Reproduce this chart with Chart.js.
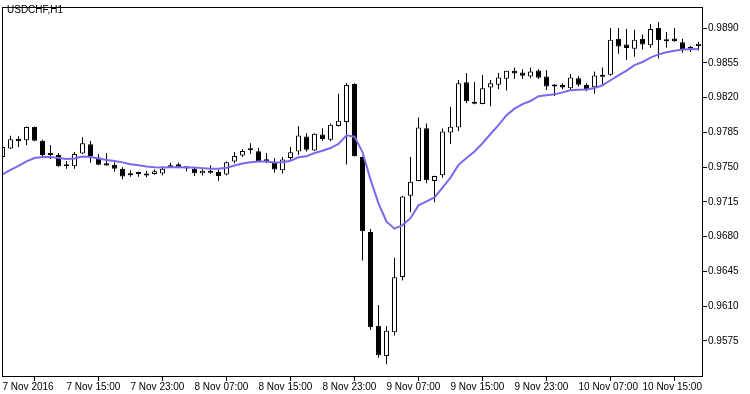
<!DOCTYPE html>
<html>
<head>
<meta charset="utf-8">
<script src="https://cdn.jsdelivr.net/npm/chart.js@4.4.0/dist/chart.umd.min.js"></script>
<style>
html, body { margin: 0; padding: 0; background: #fff; }
#wrap { width: 750px; height: 394px; }
</style>
</head>
<body>
<div id="wrap"><canvas id="chart" width="750" height="394"></canvas></div>
<script>
const symbolTitle = 'USDCHF,H1';

const openPrices = [
    0.97603, 0.97688, 0.97787, 0.97772, 0.97906, 0.97767, 0.97643, 0.97623, 0.97529, 0.97509,
    0.97638, 0.97732, 0.97598, 0.97541, 0.97524, 0.97484, 0.97439, 0.97436, 0.97436, 0.97431,
    0.97437, 0.97499, 0.97529, 0.97494, 0.97484, 0.97439, 0.97464, 0.97451, 0.97427, 0.97557,
    0.97618, 0.97671, 0.97660, 0.97580, 0.97551, 0.97469, 0.97593, 0.97658, 0.97809, 0.97668,
    0.97829, 0.97777, 0.97916, 0.97956, 0.98339, 0.97603, 0.96848, 0.95904, 0.95598, 0.95837,
    0.96394, 0.97213, 0.97362, 0.97892, 0.97362, 0.97419, 0.97849, 0.97899, 0.98356, 0.98160,
    0.98137, 0.98302, 0.98332, 0.98392, 0.98471, 0.98455, 0.98415, 0.98475, 0.98415, 0.98329,
    0.98329, 0.98296, 0.98396, 0.98329, 0.98306, 0.98428, 0.98431, 0.98793, 0.98736, 0.98694,
    0.98793, 0.98729, 0.98902, 0.98786, 0.98796, 0.98759, 0.98694, 0.98720
];
const highPrices = [
    0.97713, 0.97817, 0.97812, 0.97911, 0.97911, 0.97777, 0.97723, 0.97643, 0.97563, 0.97653,
    0.97802, 0.97765, 0.97633, 0.97643, 0.97549, 0.97499, 0.97469, 0.97454, 0.97464, 0.97477,
    0.97509, 0.97544, 0.97544, 0.97501, 0.97494, 0.97479, 0.97521, 0.97474, 0.97557, 0.97653,
    0.97683, 0.97742, 0.97693, 0.97643, 0.97593, 0.97603, 0.97703, 0.97914, 0.97842, 0.97842,
    0.97892, 0.97941, 0.98239, 0.98349, 0.98346, 0.97608, 0.96878, 0.96112, 0.95901, 0.96589,
    0.97211, 0.97603, 0.98001, 0.97941, 0.97414, 0.97889, 0.98110, 0.98379, 0.98448, 0.98359,
    0.98428, 0.98379, 0.98448, 0.98473, 0.98505, 0.98488, 0.98505, 0.98488, 0.98478, 0.98339,
    0.98346, 0.98438, 0.98418, 0.98346, 0.98465, 0.98505, 0.98902, 0.98902, 0.98895, 0.98886,
    0.98836, 0.98942, 0.98962, 0.98863, 0.98902, 0.98793, 0.98720, 0.98763
];
const lowPrices = [
    0.97593, 0.97683, 0.97703, 0.97723, 0.97762, 0.97608, 0.97583, 0.97504, 0.97484, 0.97484,
    0.97633, 0.97544, 0.97519, 0.97514, 0.97454, 0.97380, 0.97404, 0.97404, 0.97400, 0.97424,
    0.97419, 0.97491, 0.97489, 0.97459, 0.97411, 0.97417, 0.97434, 0.97365, 0.97417, 0.97539,
    0.97603, 0.97633, 0.97551, 0.97539, 0.97444, 0.97437, 0.97576, 0.97623, 0.97658, 0.97663,
    0.97767, 0.97762, 0.97911, 0.97527, 0.97608, 0.96560, 0.95861, 0.95582, 0.95516, 0.95804,
    0.96358, 0.97047, 0.97360, 0.97338, 0.97146, 0.97395, 0.97735, 0.97865, 0.98145, 0.98135,
    0.98135, 0.98113, 0.98289, 0.98272, 0.98389, 0.98389, 0.98396, 0.98389, 0.98279, 0.98217,
    0.98289, 0.98272, 0.98312, 0.98266, 0.98239, 0.98322, 0.98421, 0.98644, 0.98580, 0.98614,
    0.98687, 0.98704, 0.98594, 0.98704, 0.98763, 0.98654, 0.98660, 0.98677
];
const closePrices = [
    0.97703, 0.97782, 0.97762, 0.97906, 0.97767, 0.97623, 0.97623, 0.97511, 0.97509, 0.97633,
    0.97742, 0.97613, 0.97524, 0.97517, 0.97484, 0.97407, 0.97419, 0.97432, 0.97416, 0.97459,
    0.97484, 0.97521, 0.97499, 0.97489, 0.97439, 0.97464, 0.97444, 0.97411, 0.97551, 0.97613,
    0.97663, 0.97673, 0.97561, 0.97556, 0.97477, 0.97578, 0.97650, 0.97819, 0.97676, 0.97837,
    0.97785, 0.97928, 0.97968, 0.98329, 0.97610, 0.96855, 0.95887, 0.95605, 0.95854, 0.96391,
    0.97206, 0.97355, 0.97901, 0.97370, 0.97411, 0.97859, 0.97908, 0.98346, 0.98165, 0.98140,
    0.98296, 0.98346, 0.98405, 0.98471, 0.98445, 0.98421, 0.98465, 0.98401, 0.98312, 0.98312,
    0.98302, 0.98405, 0.98332, 0.98286, 0.98425, 0.98411, 0.98783, 0.98717, 0.98700, 0.98783,
    0.98736, 0.98892, 0.98779, 0.98769, 0.98769, 0.98690, 0.98714, 0.98743
];
const maValues = [
    0.97429, 0.97474, 0.97514, 0.97559, 0.97593, 0.97603, 0.97603, 0.97593, 0.97583, 0.97588,
    0.97608, 0.97603, 0.97588, 0.97573, 0.97563, 0.97549, 0.97531, 0.97521, 0.97507, 0.97501,
    0.97497, 0.97501, 0.97501, 0.97497, 0.97497, 0.97491, 0.97484, 0.97484, 0.97494, 0.97517,
    0.97537, 0.97551, 0.97557, 0.97557, 0.97547, 0.97551, 0.97566, 0.97600, 0.97610, 0.97643,
    0.97666, 0.97693, 0.97735, 0.97822, 0.97808, 0.97653, 0.97375, 0.97136, 0.96952, 0.96881,
    0.96917, 0.96987, 0.97116, 0.97156, 0.97196, 0.97295, 0.97395, 0.97524, 0.97593, 0.97658,
    0.97742, 0.97835, 0.97924, 0.98024, 0.98090, 0.98135, 0.98167, 0.98215, 0.98225, 0.98234,
    0.98254, 0.98276, 0.98281, 0.98284, 0.98297, 0.98326, 0.98376, 0.98426, 0.98474, 0.98528,
    0.98560, 0.98604, 0.98637, 0.98659, 0.98674, 0.98685, 0.98689, 0.98690
];

// bar index of each time label (one bar = one hour, label every 8 bars)
const xTickIndex = [0, 8, 16, 24, 32, 40, 48, 56, 64, 72, 80];
const xTickLabels = [
    '7 Nov 2016', '7 Nov 15:00', '7 Nov 23:00', '8 Nov 07:00', '8 Nov 15:00', '8 Nov 23:00',
    '9 Nov 07:00', '9 Nov 15:00', '9 Nov 23:00', '10 Nov 07:00', '10 Nov 15:00'
];
const yTickValues = [0.9575, 0.9610, 0.9645, 0.9680, 0.9715, 0.9750, 0.9785, 0.9820, 0.9855, 0.9890];

const bodyData = openPrices.map((o, i) => ({ x: i, y: [o, closePrices[i]] }));
const wickData = lowPrices.map((l, i) => ({ x: i, y: [l, highPrices[i]] }));
const maData = maValues.map((v, i) => ({ x: i, y: v }));
const bodyColors = openPrices.map((o, i) => closePrices[i] > o ? '#FFFFFF' : '#000000');

const axisFont = { family: '"Liberation Sans", Arial, sans-serif', size: 10 };

const framePlugin = {
    id: 'frame',
    afterDatasetsDraw(chart) {
        const { ctx, chartArea: a } = chart;
        ctx.save();
        ctx.strokeStyle = '#000';
        ctx.lineWidth = 1;
        ctx.strokeRect(a.left + 0.5, a.top + 0.5, a.right - a.left - 1, a.bottom - a.top - 1);
        ctx.font = '10px "Liberation Sans", Arial, sans-serif';
        ctx.fillStyle = '#000';
        ctx.textBaseline = 'alphabetic';
        ctx.fillText(symbolTitle, 7, 13);
        ctx.restore();
    }
};

new Chart(document.getElementById('chart').getContext('2d'), {
    type: 'bar',
    data: {
        datasets: [
            {
                type: 'line',
                data: maData,
                borderColor: '#7B68EE',
                borderWidth: 2,
                pointRadius: 0,
                tension: 0,
                order: 0
            },
            {
                type: 'bar',
                data: bodyData,
                backgroundColor: bodyColors,
                borderColor: '#000000',
                borderWidth: 1,
                borderSkipped: false,
                barThickness: 5,
                minBarLength: 2,
                grouped: false,
                inflateAmount: 0,
                order: 1
            },
            {
                type: 'bar',
                data: wickData,
                backgroundColor: '#000000',
                borderWidth: 0,
                barThickness: 1,
                grouped: false,
                inflateAmount: 0,
                order: 2
            }
        ]
    },
    options: {
        responsive: false,
        animation: false,
        layout: { padding: { left: 2, top: 2, right: 0, bottom: 0 } },
        plugins: {
            legend: { display: false },
            tooltip: { enabled: false }
        },
        scales: {
            x: {
                type: 'linear',
                min: -0.0625,
                max: 87.5625,
                offset: false,
                afterBuildTicks: (s) => { s.ticks = xTickIndex.map(v => ({ value: v })); },
                afterFit: (s) => { s.height = 17; },
                ticks: {
                    autoSkip: false,
                    maxRotation: 0,
                    align: 'start',
                    padding: 0,
                    color: '#000',
                    font: axisFont,
                    callback: (v, i) => xTickLabels[i]
                },
                grid: { drawOnChartArea: false, drawTicks: true, tickLength: 4, color: '#000' },
                border: { display: false }
            },
            y: {
                position: 'right',
                min: 0.95387,
                max: 0.99114,
                afterBuildTicks: (s) => { s.ticks = yTickValues.map(v => ({ value: v })); },
                afterFit: (s) => { s.width = 47; },
                ticks: {
                    padding: 1,
                    color: '#000',
                    font: axisFont,
                    callback: (v) => v.toFixed(4)
                },
                grid: { drawOnChartArea: false, drawTicks: true, tickLength: 4, color: '#000' },
                border: { display: false }
            }
        }
    },
    plugins: [framePlugin]
});
</script>
</body>
</html>
